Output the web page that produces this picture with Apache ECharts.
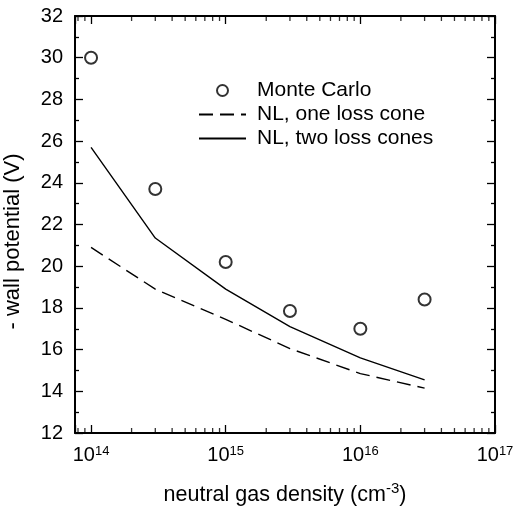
<!DOCTYPE html>
<html>
<head>
<meta charset="utf-8">
<script src="https://cdn.jsdelivr.net/npm/echarts@6/dist/echarts.min.js"></script>
<style>
  html, body { margin: 0; padding: 0; background: #fff; }
  #main { width: 514px; height: 508px; }
</style>
</head>
<body>
<div id="main"></div>
<script>
// neutral gas density (cm^-3)
var density = [1e14, 3e14, 1e15, 3e15, 1e16, 3e16];
// - wall potential (V)
var monteCarlo = [30.0, 23.7, 20.2, 17.85, 17.0, 18.4];
var oneLossCone = [20.9, 18.9, 17.45, 16.05, 14.85, 14.15];
var twoLossCones = [25.7, 21.35, 18.9, 17.1, 15.6, 14.55];

// log axis decoration: minor ticks at 2..9 x 10^n
var decades = [1e13, 1e14, 1e15, 1e16];
var minorSteps = [2, 3, 4, 5, 6, 7, 8, 9];

var xMin = 7.6e13, xMax = 1e17;
var yMin = 12, yMax = 32;

function pairs(xs, ys) {
  return xs.map(function (x, i) { return [x, ys[i]]; });
}

var minorTicks = [];
decades.forEach(function (d) {
  minorSteps.forEach(function (k) {
    var v = d * k;
    if (v > xMin && v < xMax) minorTicks.push(v);
  });
});

var font = 'Liberation Sans';
var black = '#000';
var clear = 'rgba(0,0,0,0)';

var chart = echarts.init(document.getElementById('main'));

function xAxisBase(pos) {
  return {
    type: 'log',
    logBase: 10,
    position: pos,
    min: xMin,
    max: xMax,
    axisLine: { lineStyle: { color: black, width: 2 } },
    axisTick: { inside: true, length: 8, lineStyle: { color: black, width: 1.3 } },
    splitLine: { show: false }
  };
}

function yAxisBase(pos) {
  return {
    type: 'value',
    position: pos,
    min: yMin,
    max: yMax,
    interval: 2,
    axisLine: { show: true, lineStyle: { color: black, width: 2 } },
    axisTick: { inside: true, length: 8, lineStyle: { color: black, width: 1.3 } },
    minorTick: { show: true, splitNumber: 2, length: 4, lineStyle: { color: black, width: 1.3 } },
    splitLine: { show: false }
  };
}

var xBottom = xAxisBase('bottom');
xBottom.name = 'neutral gas density (cm{sup|-3})';
xBottom.nameLocation = 'middle';
xBottom.nameGap = 48;
xBottom.nameTextStyle = {
  color: black, fontFamily: font, fontSize: 21.5,
  rich: { sup: { fontSize: 15, fontFamily: font, color: black, padding: [0, 0, 14, 0] } }
};
xBottom.axisLabel = {
  color: black, fontFamily: font, fontSize: 20, margin: 12,
  formatter: function (v) {
    var e = Math.round(Math.log10(v));
    if (Math.abs(Math.log10(v) - e) > 1e-6) return '';
    return '10{sup|' + e + '}';
  },
  rich: { sup: { fontSize: 13, fontFamily: font, color: black, padding: [0, 0, 7, 0] } }
};

var xTop = xAxisBase('top');
xTop.axisLabel = { show: false };

var yLeft = yAxisBase('left');
yLeft.name = '- wall potential (V)';
yLeft.nameLocation = 'middle';
yLeft.nameGap = 51;
yLeft.nameTextStyle = { color: black, fontFamily: font, fontSize: 22, padding: [0, 34, 0, 0] };
yLeft.axisLabel = { color: black, fontFamily: font, fontSize: 20, margin: 12 };

var yRight = yAxisBase('right');
yRight.axisLabel = { show: false };

var option = {
  backgroundColor: '#fff',
  animation: false,
  grid: { left: 75, right: 19, top: 16, bottom: 75, containLabel: false, outerBoundsMode: 'none' },
  xAxis: [xBottom, xTop],
  yAxis: [yLeft, yRight],
  legend: {
    orient: 'vertical',
    left: 193,
    top: 75,
    itemWidth: 47,
    itemHeight: 11,
    itemGap: 3,
    data: ['Monte Carlo', 'NL, one loss cone', 'NL, two loss cones'],
    textStyle: { color: black, fontFamily: font, fontSize: 21, padding: [0, 0, 0, 6] }
  },
  series: [
    {
      name: 'Monte Carlo',
      type: 'scatter',
      symbol: 'emptyCircle',
      symbolSize: 12,
      itemStyle: { color: black, borderColor: black, borderWidth: 1.5 },
      data: pairs(density, monteCarlo)
    },
    {
      name: 'NL, one loss cone',
      type: 'line',
      symbol: 'none',
      itemStyle: { color: clear },
      lineStyle: { color: black, width: 1.4, type: [14, 7] },
      data: pairs(density, oneLossCone)
    },
    {
      name: 'NL, two loss cones',
      type: 'line',
      symbol: 'none',
      itemStyle: { color: clear },
      lineStyle: { color: black, width: 1.4 },
      data: pairs(density, twoLossCones)
    },
    {
      type: 'scatter',
      silent: true,
      symbol: 'rect',
      symbolSize: [1.3, 5],
      symbolOffset: [0, -2.5],
      itemStyle: { color: black },
      data: minorTicks.map(function (v) { return [v, yMin]; })
    },
    {
      type: 'scatter',
      silent: true,
      symbol: 'rect',
      symbolSize: [1.3, 5],
      symbolOffset: [0, 2.5],
      itemStyle: { color: black },
      data: minorTicks.map(function (v) { return [v, yMax]; })
    }
  ]
};

chart.setOption(option);
</script>
</body>
</html>
